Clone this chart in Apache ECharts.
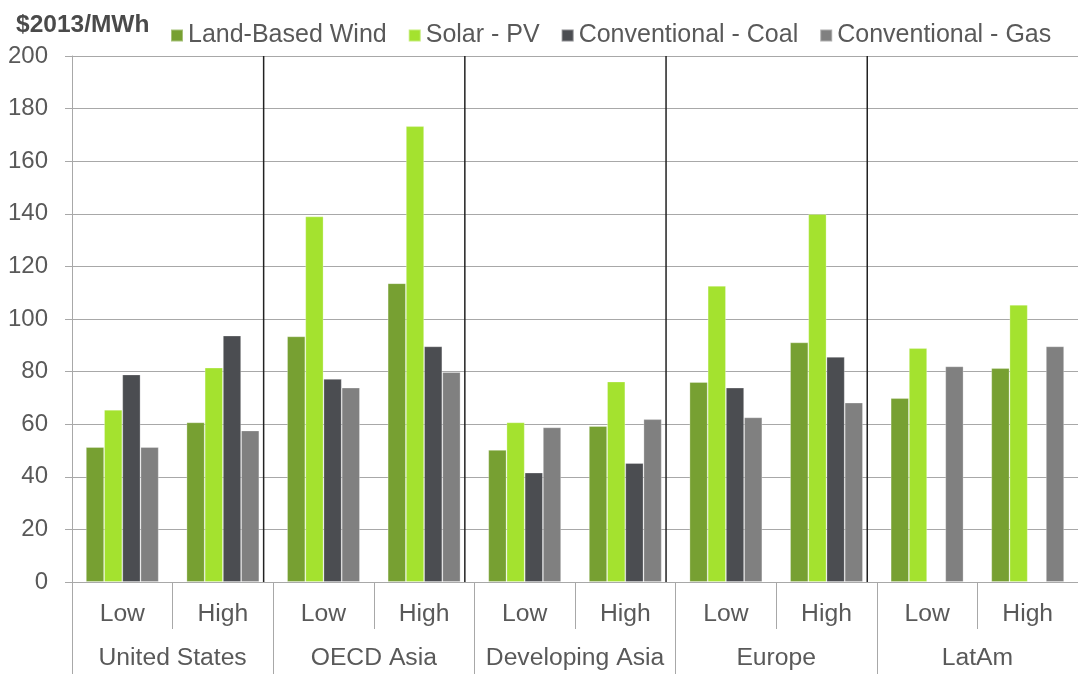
<!DOCTYPE html>
<html><head><meta charset="utf-8">
<script src="https://cdn.jsdelivr.net/npm/echarts@6/dist/echarts.min.js"></script>
<style>html,body{margin:0;padding:0;background:#fff}#c{width:1078px;height:677px}</style>
</head><body><div id="c"></div>
<script>
const scenarios = ['Low','High','Low','High','Low','High','Low','High','Low','High'];
const regions = ['United States','OECD Asia','Developing Asia','Europe','LatAm'];
const seriesNames = ['Land-Based Wind','Solar - PV','Conventional - Coal','Conventional - Gas'];
const windValues  = [51.3, 60.7, 93.4, 113.6, 50.2, 59.3, 76.0, 91.1, 69.9, 81.3];
const solarValues = [65.5, 81.5, 139.0, 173.3, 60.7, 76.2, 112.6, 139.9, 88.9, 105.4];
const coalValues  = [78.9, 93.7, 77.2, 89.6, 41.6, 45.2, 73.9, 85.6, null, null];
const gasValues   = [51.3, 57.6, 73.9, 79.8, 58.8, 61.9, 62.6, 68.2, 82.0, 89.6];
const separatorPositions = [1.905, 3.905, 5.905, 7.905];
const yTicks = {min: 0, max: 200, interval: 20};

const colors = ['#77a032', '#a4e22f', '#4b4d51', '#808080'];
const txt = '#595959';
const gridC = '#a8a8a8';
const font = 'Liberation Sans, Arial, sans-serif';

const sepData = [];
separatorPositions.forEach(x => { sepData.push([x, yTicks.min]); sepData.push([x, yTicks.max]); sepData.push([x, '-']); });

const vals = [windValues, solarValues, coalValues, gasValues];
const barSeries = seriesNames.map((n, i) => ({
  name: n, type: 'bar', xAxisIndex: 0, yAxisIndex: 0,
  data: vals[i], barWidth: 18.2, barGap: '0%',
  itemStyle: {color: colors[i], borderColor: 'rgba(255,255,255,0.35)', borderWidth: 0.8}, z: 3
}));

const chart = echarts.init(document.getElementById('c'), null, {renderer: 'canvas'});
chart.setOption({
  animation: false,
  textStyle: {fontFamily: font},
  title: {text: '$2013/MWh', left: 11, top: 8,
    textStyle: {fontFamily: font, fontSize: 24.5, fontWeight: 'bold', color: '#4a4a4a', lineHeight: 24}},
  legend: {left: 170, top: 23, padding: 0, itemWidth: 12, itemHeight: 12, itemGap: 21,
    icon: 'rect', data: seriesNames,
    textStyle: {fontFamily: font, fontSize: 25, color: txt, lineHeight: 25}},
  grid: {left: 72, right: 0, top: 56, bottom: 95, containLabel: false},
  xAxis: [
    {type: 'category', data: scenarios, position: 'bottom',
      axisLine: {show: true, lineStyle: {color: gridC, width: 1}},
      axisTick: {show: true, length: 47, interval: 0, lineStyle: {color: gridC}},
      axisLabel: {interval: 0, margin: 20, fontSize: 24.7, color: txt, fontFamily: font, lineHeight: 25}},
    {type: 'category', data: regions, position: 'bottom',
      axisLine: {show: false},
      axisTick: {show: true, length: 92, interval: 0, lineStyle: {color: gridC}},
      axisLabel: {interval: 0, margin: 64, fontSize: 24.7, color: txt, fontFamily: font, lineHeight: 25}},
    {type: 'value', min: 0, max: 10, show: false}
  ],
  yAxis: [{type: 'value', min: yTicks.min, max: yTicks.max, interval: yTicks.interval,
    axisLine: {show: true, lineStyle: {color: gridC}},
    axisTick: {show: true, length: 7, lineStyle: {color: gridC}},
    axisLabel: {margin: 24, fontSize: 24, color: txt, fontFamily: font},
    splitLine: {show: true, lineStyle: {color: gridC, width: 1}}}],
  series: barSeries.concat([{
    type: 'line', xAxisIndex: 2, yAxisIndex: 0, data: sepData,
    symbol: 'none', silent: true, connectNulls: false,
    lineStyle: {color: '#222', width: 1.5}, z: 2, legendHoverLink: false
  }])
});
</script></body></html>
